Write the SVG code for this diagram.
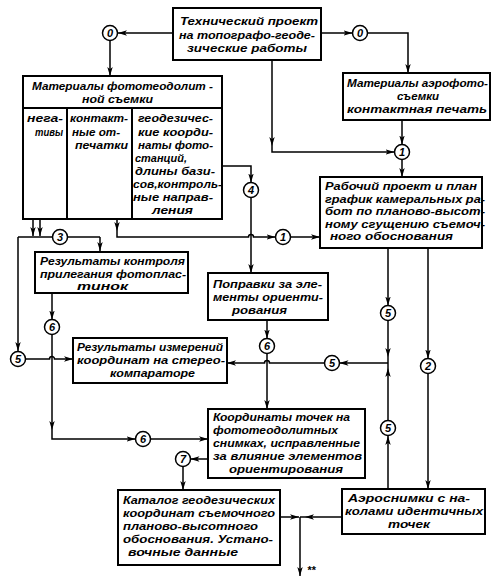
<svg xmlns="http://www.w3.org/2000/svg" width="498" height="584" viewBox="0 0 498 584">
<style>
.b{fill:#fff;stroke:#000;stroke-width:2}
.l{fill:none;stroke:#000;stroke-width:1.5}
.la{fill:none;stroke:#000;stroke-width:1.5;marker-end:url(#a)}
.c{fill:#fff;stroke:#000;stroke-width:1.5}
text{font-family:"Liberation Sans",Arial,sans-serif;font-style:italic;font-weight:bold;font-size:10.5px;fill:#000}
.n{font-size:11px;text-anchor:middle}
</style>
<defs>
<marker id="a" viewBox="0 0 10 6" refX="10" refY="3" markerWidth="9" markerHeight="5.4" markerUnits="userSpaceOnUse" orient="auto"><path d="M0,0 L10,3 L0,6 L2.5,3 z" fill="#000"/></marker>
</defs>
<rect width="498" height="584" fill="#fff"/>
<g id="connectors">
<path class="la" d="M173,33 H118"/>
<path class="la" d="M110,40.5 V76"/>
<path class="la" d="M321,33 H352.5"/>
<path class="la" d="M367.5,33 H408 V73"/>
<path class="la" d="M272,60 V146"/>
<path class="la" d="M272,146 V152 H394.5"/>
<path class="la" d="M402,120 V144.5"/>
<path class="la" d="M402,159.5 V177"/>
<path class="la" d="M33,219 V236"/>
<path class="la" d="M40,219 V236"/>
<path class="l" d="M18,237 H100"/>
<path class="la" d="M100,237 V251"/>
<path class="la" d="M18,237 V351"/>
<path class="la" d="M117,219 V231"/>
<path class="la" d="M117,231 V237 H248.5 a2.5,2.5 0 0 1 5,0 H275.5"/>
<path class="la" d="M290.5,237 H320"/>
<path class="la" d="M222,166 H251 V182.5"/>
<path class="la" d="M251,197.5 V273"/>
<path class="la" d="M52,293 V319.5"/>
<path class="la" d="M52,334.5 V430"/>
<path class="la" d="M52,430 V439 H135.5"/>
<path class="la" d="M150.5,439 H208"/>
<path class="la" d="M25.5,359 H49.5 a2.5,2.5 0 0 1 5,0 H73"/>
<path class="la" d="M267,320 V338.5"/>
<path class="la" d="M267,353.5 V409"/>
<path class="la" d="M388,248 V305.5"/>
<path class="la" d="M388,320.5 V357"/>
<path class="l" d="M388,357 V363"/>
<path class="la" d="M388,363 H339.5"/>
<path class="la" d="M324.5,363 H269.5 a2.5,2.5 0 0 0 -5,0 H227"/>
<path class="la" d="M388,489 V436"/>
<path class="la" d="M388,420.5 V368"/>
<path class="l" d="M388,368 V363"/>
<path class="la" d="M428,248 V358.5"/>
<path class="la" d="M428,373.5 V489"/>
<path class="la" d="M208,459 H190.5"/>
<path class="la" d="M183,466.5 V490"/>
<path class="la" d="M342,517 H305"/>
<path class="l" d="M305,517 H300"/>
<path class="la" d="M280,517 H299"/>
<path class="la" d="M300,517 V576"/>
<text x="307" y="574" style="font-size:11px">**</text>
</g>
<g id="circles">
<circle class="c" cx="110" cy="33" r="7.5"/><text class="n" x="110" y="37">0</text>
<circle class="c" cx="360" cy="33" r="7.5"/><text class="n" x="360" y="37">0</text>
<circle class="c" cx="402" cy="152" r="7.5"/><text class="n" x="402" y="156">1</text>
<circle class="c" cx="283" cy="237" r="7.5"/><text class="n" x="283" y="241">1</text>
<circle class="c" cx="60" cy="237" r="7.5"/><text class="n" x="60" y="241">3</text>
<circle class="c" cx="251" cy="190" r="7.5"/><text class="n" x="251" y="194">4</text>
<circle class="c" cx="18" cy="359" r="7.5"/><text class="n" x="18" y="363">5</text>
<circle class="c" cx="52" cy="327" r="7.5"/><text class="n" x="52" y="331">6</text>
<circle class="c" cx="267" cy="346" r="7.5"/><text class="n" x="267" y="350">6</text>
<circle class="c" cx="143" cy="439" r="7.5"/><text class="n" x="143" y="443">6</text>
<circle class="c" cx="388" cy="313" r="7.5"/><text class="n" x="388" y="317">5</text>
<circle class="c" cx="332" cy="363" r="7.5"/><text class="n" x="332" y="367">5</text>
<circle class="c" cx="388" cy="428" r="7.5"/><text class="n" x="388" y="432">5</text>
<circle class="c" cx="428" cy="366" r="7.5"/><text class="n" x="428" y="370">2</text>
<circle class="c" cx="183" cy="459" r="7.5"/><text class="n" x="183" y="463">7</text>
</g>
<g id="n-tech">
<rect class="b" x="173" y="8" width="148" height="52"/>
<text x="180" y="25" textLength="138" lengthAdjust="spacingAndGlyphs">Технический проект</text>
<text x="179" y="39" textLength="136" lengthAdjust="spacingAndGlyphs">на топографо-геоде-</text>
<text x="187" y="52" textLength="120" lengthAdjust="spacingAndGlyphs">зические работы</text>
</g>
<g id="n-photo">
<rect class="b" x="23" y="76" width="199" height="143"/>
<path class="l" d="M23,108 H222 M67,108 V219 M132,108 V219" style="stroke-width:2"/>
<text x="32" y="90" textLength="181" lengthAdjust="spacingAndGlyphs">Материалы фототеодолит -</text>
<text x="82" y="103" textLength="71" lengthAdjust="spacingAndGlyphs">ной съемки</text>
<text x="27" y="122" textLength="36" lengthAdjust="spacingAndGlyphs">нега-</text>
<text x="35" y="136" textLength="28" lengthAdjust="spacingAndGlyphs">тивы</text>
<text x="70" y="122" textLength="58" lengthAdjust="spacingAndGlyphs">контакт-</text>
<text x="72" y="136" textLength="48" lengthAdjust="spacingAndGlyphs">ные от-</text>
<text x="75" y="149" textLength="53" lengthAdjust="spacingAndGlyphs">печатки</text>
<text x="138" y="122" textLength="75" lengthAdjust="spacingAndGlyphs">геодезичес-</text>
<text x="138" y="136" textLength="75" lengthAdjust="spacingAndGlyphs">кие коорди-</text>
<text x="138" y="149" textLength="75" lengthAdjust="spacingAndGlyphs">наты фото-</text>
<text x="135" y="162" textLength="52" lengthAdjust="spacingAndGlyphs">станций,</text>
<text x="135" y="175" textLength="80" lengthAdjust="spacingAndGlyphs">длины бази-</text>
<text x="133" y="188" textLength="89" lengthAdjust="spacingAndGlyphs">сов,контроль-</text>
<text x="133" y="201" textLength="80" lengthAdjust="spacingAndGlyphs">ные направ-</text>
<text x="152" y="214" textLength="41" lengthAdjust="spacingAndGlyphs">ления</text>
</g>
<g id="n-aero">
<rect class="b" x="343" y="73" width="147" height="47"/>
<text x="347" y="87" textLength="141" lengthAdjust="spacingAndGlyphs">Материалы аэрофото-</text>
<text x="397" y="100" textLength="42" lengthAdjust="spacingAndGlyphs">съемки</text>
<text x="347" y="113" textLength="140" lengthAdjust="spacingAndGlyphs">контактная печать</text>
</g>
<g id="n-work">
<rect class="b" x="320" y="177" width="162" height="71"/>
<text x="325" y="190" textLength="152" lengthAdjust="spacingAndGlyphs">Рабочий проект и план</text>
<text x="325" y="202.5" textLength="160" lengthAdjust="spacingAndGlyphs">график камеральных ра-</text>
<text x="325" y="215" textLength="160" lengthAdjust="spacingAndGlyphs">бот по планово-высот-</text>
<text x="325" y="227.5" textLength="160" lengthAdjust="spacingAndGlyphs">ному сгущению съемоч-</text>
<text x="330" y="240" textLength="123" lengthAdjust="spacingAndGlyphs">ного обоснования</text>
</g>
<g id="n-control">
<rect class="b" x="35" y="252" width="153" height="41"/>
<text x="40" y="265" textLength="145" lengthAdjust="spacingAndGlyphs">Результаты контроля</text>
<text x="40" y="278" textLength="146" lengthAdjust="spacingAndGlyphs">прилегания фотоплас-</text>
<text x="77" y="290" textLength="51" lengthAdjust="spacingAndGlyphs">тинок</text>
</g>
<g id="n-corr">
<rect class="b" x="208" y="273" width="120" height="47"/>
<text x="213" y="288" textLength="109" lengthAdjust="spacingAndGlyphs">Поправки за эле-</text>
<text x="213" y="301" textLength="110" lengthAdjust="spacingAndGlyphs">менты ориенти-</text>
<text x="232" y="314" textLength="55" lengthAdjust="spacingAndGlyphs">рования</text>
</g>
<g id="n-meas">
<rect class="b" x="73" y="338" width="154" height="45"/>
<text x="77" y="351" textLength="146" lengthAdjust="spacingAndGlyphs">Результаты измерений</text>
<text x="77" y="364" textLength="148" lengthAdjust="spacingAndGlyphs">координат на стерео-</text>
<text x="110" y="377" textLength="85" lengthAdjust="spacingAndGlyphs">компараторе</text>
</g>
<g id="n-coord">
<rect class="b" x="208" y="409" width="157" height="69"/>
<text x="213" y="421" textLength="137" lengthAdjust="spacingAndGlyphs">Координаты точек на</text>
<text x="213" y="434" textLength="125" lengthAdjust="spacingAndGlyphs">фототеодолитных</text>
<text x="213" y="447" textLength="147" lengthAdjust="spacingAndGlyphs">снимках, исправленные</text>
<text x="213" y="460" textLength="149" lengthAdjust="spacingAndGlyphs">за влияние элементов</text>
<text x="229" y="473" textLength="114" lengthAdjust="spacingAndGlyphs">ориентирования</text>
</g>
<g id="n-catalog">
<rect class="b" x="118" y="490" width="162" height="75"/>
<text x="123" y="504" textLength="152" lengthAdjust="spacingAndGlyphs">Каталог геодезических</text>
<text x="123" y="517" textLength="152" lengthAdjust="spacingAndGlyphs">координат съемочного</text>
<text x="123" y="530" textLength="135" lengthAdjust="spacingAndGlyphs">планово-высотного</text>
<text x="123" y="543" textLength="150" lengthAdjust="spacingAndGlyphs">обоснования. Устано-</text>
<text x="128" y="556" textLength="110" lengthAdjust="spacingAndGlyphs">вочные данные</text>
</g>
<g id="n-aerosnap">
<rect class="b" x="342" y="489" width="143" height="45"/>
<text x="348" y="502" textLength="122" lengthAdjust="spacingAndGlyphs">Аэроснимки с на-</text>
<text x="345" y="515" textLength="138" lengthAdjust="spacingAndGlyphs">колами идентичных</text>
<text x="388" y="528" textLength="42" lengthAdjust="spacingAndGlyphs">точек</text>
</g>
</svg>
